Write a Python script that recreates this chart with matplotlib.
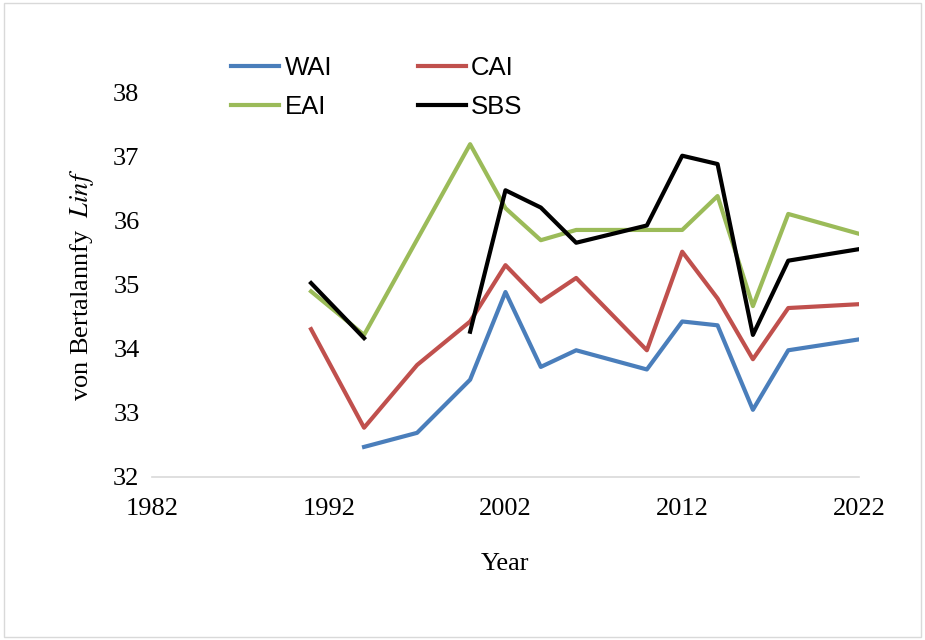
import matplotlib
matplotlib.use("Agg")
import matplotlib.pyplot as plt
import numpy as np
from matplotlib.patches import Rectangle

# values
wai_years = [1994, 1997, 2000, 2002, 2004, 2006, 2010, 2012, 2014, 2016, 2018, 2022]
wai_vals = [32.47, 32.69, 33.52, 34.89, 33.72, 33.98, 33.68, 34.43, 34.37, 33.05, 33.98, 34.15]

cai_years = [1991, 1994, 1997, 2000, 2002, 2004, 2006, 2010, 2012, 2014, 2016, 2018, 2022]
cai_vals = [34.31, 32.77, 33.75, 34.43, 35.31, 34.74, 35.11, 33.98, 35.52, 34.79, 33.84, 34.64, 34.70]

eai_years = [1991, 1994, 2000, 2002, 2004, 2006, 2010, 2012, 2014, 2016, 2018, 2022]
eai_vals = [34.90, 34.22, 37.20, 36.20, 35.70, 35.86, 35.86, 35.86, 36.39, 34.67, 36.11, 35.80]

# 1997 missing for SBS -> gap in the line
sbs_years = [1991, 1994, 1997, 2000, 2002, 2004, 2006, 2010, 2012, 2014, 2016, 2018, 2022]
sbs_vals = [35.03, 34.17, np.nan, 34.27, 36.48, 36.21, 35.66, 35.93, 37.02, 36.89, 34.22, 35.38, 35.56]

x_ticks = [1982, 1992, 2002, 2012, 2022]
y_ticks = [32, 33, 34, 35, 36, 37, 38]

plt.rcParams["mathtext.fontset"] = "stix"

fig = plt.figure(figsize=(9.25, 6.4), dpi=100)
fig.patches.append(Rectangle((0.004, 0.004), 0.992, 0.992, transform=fig.transFigure,
                             fill=False, edgecolor="#d9d9d9", linewidth=1.0))
ax = fig.add_axes([0.1643, 0.2547, 0.7643, 0.6])

ax.plot(wai_years, wai_vals, color="#4a7ebb", lw=3, label="WAI")
ax.plot(eai_years, eai_vals, color="#9bbb59", lw=3, label="EAI")
ax.plot(cai_years, cai_vals, color="#c0504d", lw=3, label="CAI")
ax.plot(sbs_years, sbs_vals, color="black", lw=3, label="SBS")

ax.set_xlim(1982, 2022)
ax.set_ylim(32, 38)
ax.set_xticks(x_ticks)
ax.set_yticks(y_ticks)
for s in ("top", "right", "left"):
    ax.spines[s].set_visible(False)
ax.spines["bottom"].set_color("#d9d9d9")
ax.spines["bottom"].set_linewidth(1.2)
ax.tick_params(length=0, labelsize=19)
ax.tick_params(axis="x", pad=15)
ax.tick_params(axis="y", pad=9)
for lab in ax.get_xticklabels() + ax.get_yticklabels():
    lab.set_family("Liberation Serif")

ax.set_xlabel("Year", family="Liberation Serif", fontsize=19, labelpad=24)
ax.set_ylabel(r"von Bertalannfy  $\mathit{Linf}$", family="Liberation Serif",
              fontsize=19, labelpad=12)

fig.legend(loc="upper left", bbox_to_anchor=(0.225, 0.948), ncol=2, frameon=False,
           prop={"family": "Liberation Sans", "size": 18.5}, handlelength=1.87,
           handletextpad=0.2, columnspacing=3.35, labelspacing=0.58)

fig.savefig("out.png", dpi=100)
